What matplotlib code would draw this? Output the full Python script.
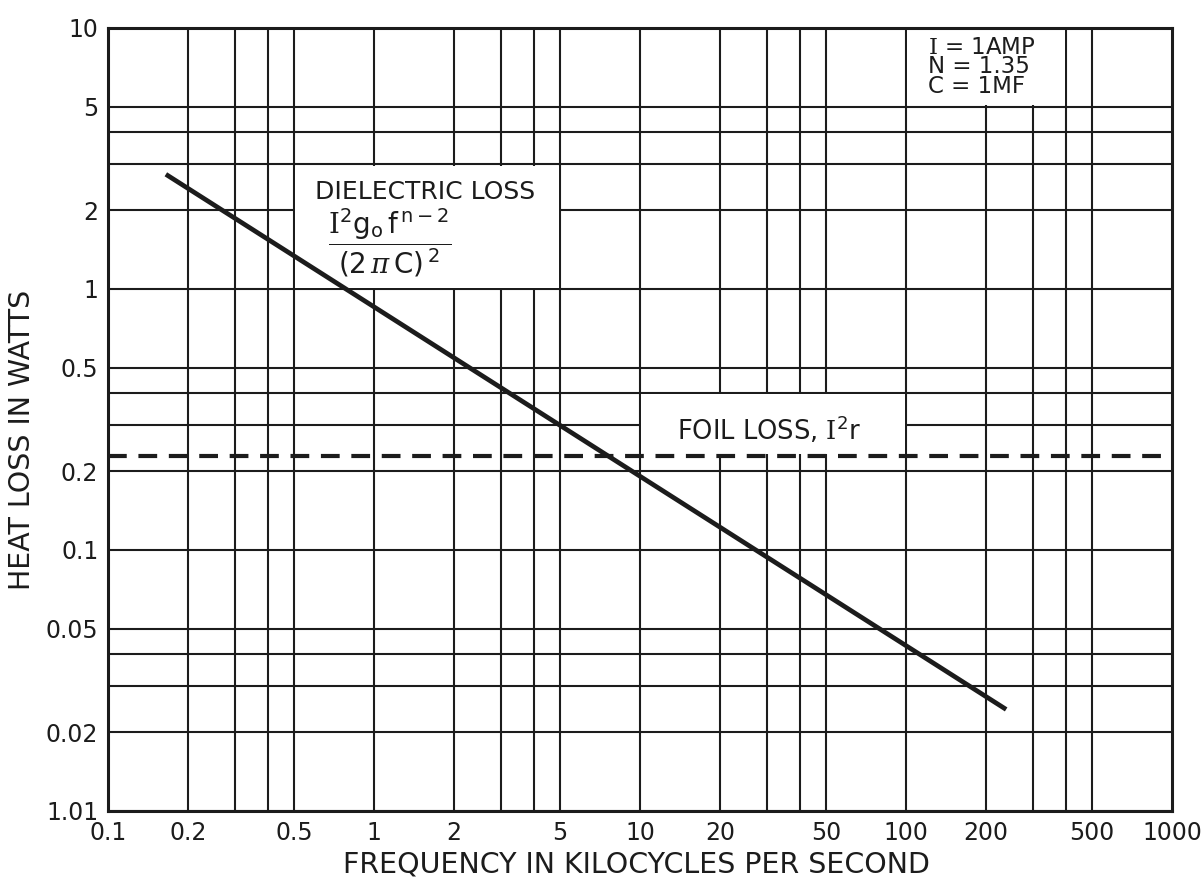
import matplotlib
matplotlib.use('Agg')
import matplotlib.pyplot as plt
from matplotlib.patches import Rectangle

# axis ticks as printed on the chart
x_ticks = [0.1, 0.2, 0.5, 1, 2, 5, 10, 20, 50, 100, 200, 500, 1000]
x_labels = ['0.1', '0.2', '0.5', '1', '2', '5', '10', '20', '50', '100', '200', '500', '1000']
y_ticks = [0.01, 0.02, 0.05, 0.1, 0.2, 0.5, 1, 2, 5, 10]
y_labels = ['1.01', '0.02', '0.05', '0.1', '0.2', '0.5', '1', '2', '5', '10']

# chart paper rulings: 1..5 in every decade
grid_mult = [1, 2, 3, 4, 5]
x_decades = [0.1, 1, 10, 100]
y_decades = [0.01, 0.1, 1]

# dielectric loss  I^2 g0 f^(n-2) / (2 pi C)^2  (end points)
diel_freq = [0.165, 238]
diel_watts = [2.75, 0.0245]

# foil loss I^2 r, flat
foil_freq = [0.1, 1000]
foil_watts = [0.23, 0.23]

ink = '#1c1c1c'
plt.rcParams['font.family'] = ['DejaVu Sans']
plt.rcParams['mathtext.fontset'] = 'dejavuserif'

fig = plt.figure(figsize=(12.04, 8.82), dpi=100)
ax = fig.add_axes([0.0897, 0.0805, 0.8837, 0.8878])
ax.set_xscale('log')
ax.set_yscale('log')
ax.set_xlim(0.1, 1000)
ax.set_ylim(0.01, 10)

# ruled grid
for d in x_decades:
    for m in grid_mult:
        ax.axvline(d * m, color=ink, lw=1.5, zorder=1)
for d in y_decades:
    for m in grid_mult:
        ax.axhline(d * m, color=ink, lw=1.5, zorder=1)

# blank cells of the paper where the labels sit
for x0, x1, y0, y1 in [(0.5, 5, 1, 3), (10, 100, 0.23, 0.4), (100, 400, 5, 10)]:
    ax.add_patch(Rectangle((x0 * 1.012, y0 * 1.012), x1 / 1.012 - x0 * 1.012,
                           y1 / 1.012 - y0 * 1.012, facecolor='white',
                           edgecolor='none', zorder=2))

ax.plot(diel_freq, diel_watts, color=ink, lw=3.4, solid_capstyle='butt', zorder=3)
ax.plot(foil_freq, foil_watts, color=ink, lw=3.0, dashes=(4.5, 2.8), zorder=3)

ax.text(0.6, 2.36, 'DIELECTRIC LOSS', fontsize=18, color=ink, ha='left', va='center', zorder=4)
ax.text(1.15, 1.5,
        r'$\dfrac{\mathrm{I}^{\mathsf{2}}\mathsf{g}_{\mathsf{o}}\,\mathsf{f}^{\,\mathsf{n-2}}}'
        r'{\mathsf{(2\,}\pi\mathsf{\,C)}^{\,\mathsf{2}}}$',
        fontsize=20, color=ink, ha='center', va='center', zorder=4)
ax.text(13.8, 0.286, r'FOIL LOSS, $\mathrm{I}^{\mathsf{2}}\mathsf{r}$', fontsize=18.5,
        color=ink, ha='left', va='center', zorder=4)
ax.text(121, 7.1, '$\\mathrm{I}$ = 1AMP\nN = 1.35\nC = 1MF', fontsize=16.5, color=ink,
        ha='left', va='center', linespacing=0.82, zorder=4)

ax.set_xticks(x_ticks)
ax.set_xticklabels(x_labels)
ax.set_yticks(y_ticks)
ax.set_yticklabels(y_labels)
ax.minorticks_off()
ax.tick_params(length=0, labelsize=17, colors=ink, pad=7)

for s in ax.spines.values():
    s.set_linewidth(2.2)
    s.set_color(ink)

ax.set_xlabel('FREQUENCY IN KILOCYCLES PER SECOND', fontsize=20.5, color=ink)
ax.set_ylabel('HEAT LOSS IN WATTS', fontsize=20.5, color=ink)
ax.xaxis.set_label_coords(0.497, -0.05)
ax.yaxis.set_label_coords(-0.068, 0.474)

fig.savefig('out.png', dpi=100)
